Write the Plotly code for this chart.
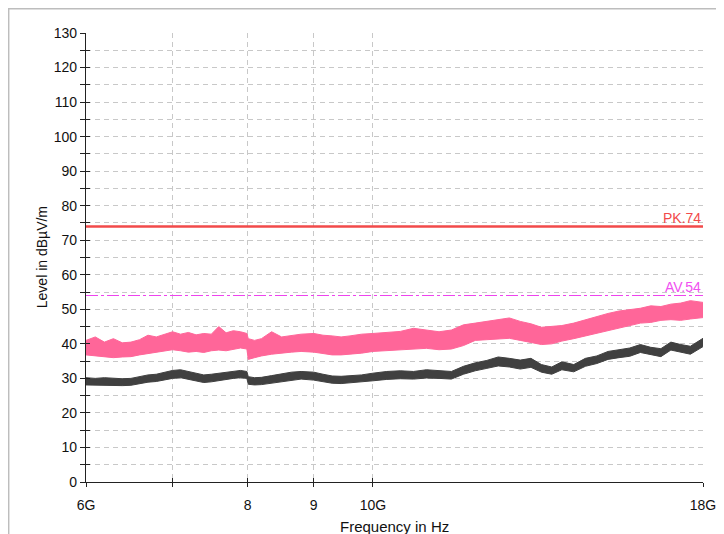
"""EMC radiated emission scan, 6-18 GHz, peak and average traces vs. limits."""

import plotly.graph_objects as go

# Frequency grid in GHz (at roughly even log spacing)
FREQ = [6.0, 6.1, 6.2, 6.3, 6.4, 6.5, 6.6, 6.7, 6.8, 6.9, 7.0, 7.1, 7.2, 7.3,
        7.4, 7.5, 7.6, 7.7, 7.8, 7.9, 7.99, 8.01, 8.1, 8.2, 8.35, 8.5, 8.65,
        8.8, 9.0, 9.15, 9.3, 9.45, 9.6, 9.8, 10.0, 10.25, 10.5, 10.75, 11.0,
        11.25, 11.5, 11.75, 12.0, 12.25, 12.5, 12.75, 13.0, 13.25, 13.5, 13.75,
        14.0, 14.3, 14.6, 14.9, 15.2, 15.5, 15.8, 16.1, 16.4, 16.7, 17.0, 17.3,
        17.6, 18.0]

# Peak trace: upper / lower edge of the noisy band (dBuV/m)
PK_HI = [41.0, 42.0, 40.5, 41.5, 40.3, 40.5, 41.2, 42.5, 42.0, 42.8, 43.5, 42.8,
         43.3, 42.6, 43.0, 42.8, 45.0, 43.2, 43.8, 43.5, 43.0, 41.5, 41.0, 41.5,
         43.5, 42.0, 42.5, 42.8, 43.0, 42.5, 42.3, 42.0, 42.3, 42.8, 43.0, 43.3,
         43.6, 44.5, 44.0, 43.5, 44.0, 45.5, 46.0, 46.5, 47.0, 47.5, 46.5, 45.8,
         44.8, 45.0, 45.3, 46.0, 47.0, 48.0, 48.8, 49.5, 50.0, 50.3, 51.0, 50.8,
         51.5, 51.8, 52.5, 52.0]
PK_LO = [36.8, 36.5, 36.3, 36.0, 36.2, 36.3, 36.8, 37.2, 37.4, 37.8, 38.3, 38.0,
         37.6, 37.8, 37.5, 38.0, 38.2, 38.0, 38.5, 38.8, 38.5, 35.5, 36.0, 36.5,
         37.0, 37.4, 37.6, 37.8, 37.6, 37.2, 36.8, 36.8, 37.0, 37.3, 37.8, 38.0,
         38.3, 38.5, 38.7, 38.3, 38.5, 39.5, 41.0, 41.2, 41.5, 41.6, 41.0, 40.5,
         39.8, 40.0, 40.8, 41.5, 42.3, 43.0, 43.8, 44.5, 45.2, 46.0, 46.2, 46.8,
         47.0, 46.8, 47.2, 47.6]

# Average trace: upper / lower edge
AV_HI = [30.2, 30.0, 30.2, 30.0, 29.9, 30.0, 30.5, 31.0, 31.2, 31.8, 32.3, 32.5,
         32.0, 31.5, 31.0, 31.2, 31.5, 31.8, 32.2, 32.3, 32.0, 30.5, 30.2, 30.3,
         30.8, 31.3, 31.8, 32.0, 31.8, 31.2, 30.7, 30.6, 30.8, 31.0, 31.5, 32.0,
         32.2, 32.0, 32.5, 32.3, 32.0, 33.5, 34.5, 35.2, 36.2, 35.8, 35.3, 35.8,
         34.0, 33.3, 34.8, 34.0, 35.8, 36.5, 37.8, 38.3, 38.8, 39.8, 39.0, 38.6,
         40.5, 39.8, 39.3, 41.6]
AV_LO = [28.1, 28.0, 28.0, 27.8, 27.9, 28.0, 28.5, 28.9, 29.1, 29.6, 30.0, 30.2,
         29.8, 29.3, 28.8, 29.0, 29.4, 29.6, 30.0, 30.2, 30.0, 28.3, 28.1, 28.2,
         28.6, 29.1, 29.5, 29.8, 29.5, 29.0, 28.6, 28.5, 28.7, 28.9, 29.3, 29.7,
         29.9, 29.8, 30.1, 30.0, 29.8, 31.2, 32.2, 32.9, 33.6, 33.3, 32.7, 33.2,
         31.8, 31.2, 32.5, 31.9, 33.5, 34.3, 35.5, 36.0, 36.4, 37.5, 36.8, 36.3,
         38.2, 37.6, 37.0, 39.2]

PK_LIMIT = 74
AV_LIMIT = 54

X_TICKS = [6, 7, 8, 9, 10, 18]
X_LABELS = ["6G", "", "8", "9", "10G", "18G"]

COLOR_PK = "#FF6699"
COLOR_AV = "#404040"
COLOR_PK_LIMIT = "#F24A4A"
COLOR_AV_LIMIT = "#EE44EE"
GRID = "#C8C8C8"
FONT = "Liberation Sans, Arial, sans-serif"

fig = go.Figure()


def band(hi, lo, color):
    fig.add_trace(go.Scatter(x=FREQ, y=hi, mode="lines", line=dict(color=color, width=1),
                             hoverinfo="skip", showlegend=False))
    fig.add_trace(go.Scatter(x=FREQ, y=lo, mode="lines", line=dict(color=color, width=1),
                             fill="tonexty", fillcolor=color, hoverinfo="skip",
                             showlegend=False))


band(PK_HI, PK_LO, COLOR_PK)
band(AV_HI, AV_LO, COLOR_AV)

# Limit lines across the full span
span = [FREQ[0], FREQ[-1]]
fig.add_trace(go.Scatter(x=span, y=[AV_LIMIT] * 2, mode="lines",
                         line=dict(color=COLOR_AV_LIMIT, width=1.2, dash="12px,3px,3px,3px"),
                         showlegend=False))
fig.add_trace(go.Scatter(x=span, y=[PK_LIMIT] * 2, mode="lines",
                         line=dict(color=COLOR_PK_LIMIT, width=2.5), showlegend=False))

# ghost trace so the overlay axes (inside half of the crossing ticks) render
fig.add_trace(go.Scatter(x=[], y=[], xaxis="x2", yaxis="y2", showlegend=False))

for val, name, color in [(PK_LIMIT, "PK.74", COLOR_PK_LIMIT), (AV_LIMIT, "AV.54", "#F050F0")]:
    fig.add_annotation(x=1, xref="paper", y=val, yref="y", text=name, showarrow=False,
                       xanchor="right", yanchor="bottom", yshift=-2,
                       font=dict(family=FONT, size=14, color=color))

fig.add_annotation(x=-0.0718, xref="paper", y=0.5, yref="paper", text="Level in dBµV/m",
                   textangle=-90, showarrow=False, xanchor="center", yanchor="middle",
                   font=dict(family=FONT, size=14, color="#111"))
fig.add_annotation(x=0.5, xref="paper", y=-0.1, yref="paper", text="Frequency in Hz",
                   showarrow=False, xanchor="center", yanchor="middle",
                   font=dict(family=FONT, size=15, color="#111"))

# light outer frame along the figure's top and left edges
fig.add_shape(type="rect", xref="paper", yref="paper", x0=-0.1257, y0=-0.3, x1=1.3,
              y1=1.0545, line=dict(color="#BDBDBD", width=2))

xrange = [0.778151, 1.255273]
# the page adds an 8px body margin, so margins are offset by that
fig.update_layout(
    width=724, height=534,
    margin=dict(l=78, r=29, t=25, b=60),
    paper_bgcolor="white", plot_bgcolor="white",
    font=dict(family=FONT, size=14, color="#111"),
    showlegend=False,
    xaxis=dict(type="log", range=xrange, tickvals=X_TICKS, ticktext=X_LABELS,
               showline=True, linecolor="#222", linewidth=1.3,
               ticks="outside", ticklen=4, tickcolor="#222", tickwidth=1.3,
               ticklabelstandoff=6,
               showgrid=True, gridcolor=GRID, griddash="5px,4px", gridwidth=1,
               zeroline=False),
    yaxis=dict(range=[0, 130], dtick=10, showline=True, linecolor="#222", linewidth=1.3,
               ticks="outside", ticklen=5, tickcolor="#222", tickwidth=1.3,
               showgrid=True, gridcolor=GRID, griddash="5px,4px", gridwidth=1,
               minor=dict(dtick=5, ticks="outside", ticklen=5, tickcolor="#222",
                          tickwidth=1.3, showgrid=True, gridcolor=GRID,
                          griddash="5px,4px", gridwidth=1),
               zeroline=False),
    xaxis2=dict(type="log", range=xrange, tickvals=X_TICKS, overlaying="x", anchor="y",
                side="bottom", ticks="inside", ticklen=4, tickcolor="#222", tickwidth=1.3,
                showticklabels=False, showgrid=False, zeroline=False),
    yaxis2=dict(range=[0, 130], dtick=10, overlaying="y", anchor="x", side="left",
                ticks="inside", ticklen=4, tickcolor="#222", tickwidth=1.3,
                minor=dict(dtick=5, ticks="inside", ticklen=4, tickcolor="#222",
                           tickwidth=1.3),
                showticklabels=False, showgrid=False, zeroline=False),
)

fig.write_html("out.html")
